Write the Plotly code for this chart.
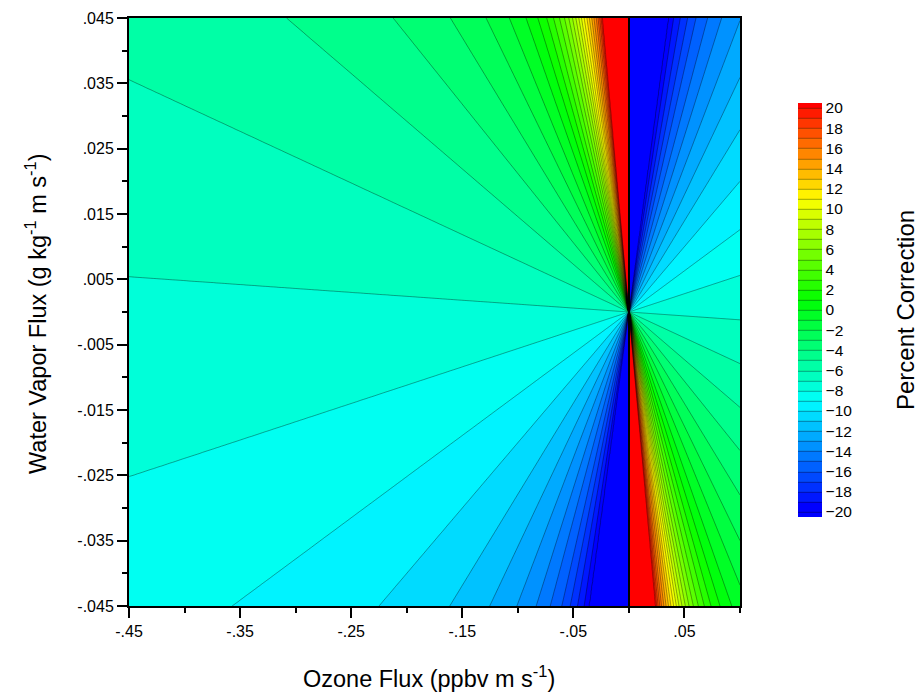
import numpy as np
import plotly.graph_objects as go

# Ratio of water vapour flux to ozone flux along each percent-correction contour
flux_ratio = [-1.890, -1.800, -1.710, -1.620, -1.530, -1.430, -1.345, -1.262, -1.190,
              -1.117, -1.054, -0.998, -0.942, -0.886, -0.832, -0.776, -0.720, -0.663,
              -0.609, -0.549, -0.486, -0.418, -0.350, -0.280, -0.212, -0.146, -0.079,
              -0.012, 0.056, 0.126, 0.200, 0.279, 0.359, 0.446, 0.539, 0.635, 0.745,
              0.851, 0.972, 1.117, 1.268]
percent_correction = [20, 19, 18, 17, 16, 15, 14, 13, 12, 11, 10, 9, 8, 7, 6, 5, 4, 3,
                      2, 1, 0, -1, -2, -3, -4, -5, -6, -7, -8, -9, -10, -11, -12, -13,
                      -14, -15, -16, -17, -18, -19, -20]

x_ticks = [-0.45, -0.35, -0.25, -0.15, -0.05, 0.05]
x_tick_labels = ["-.45", "-.35", "-.25", "-.15", "-.05", ".05"]
x_minor = [-0.40, -0.30, -0.20, -0.10, 0.0, 0.10]
y_ticks = [0.045, 0.035, 0.025, 0.015, 0.005, -0.005, -0.015, -0.025, -0.035, -0.045]
y_tick_labels = [".045", ".035", ".025", ".015", ".005", "-.005", "-.015", "-.025",
                 "-.035", "-.045"]
y_minor = [0.04, 0.03, 0.02, 0.01, 0.0, -0.01, -0.02, -0.03, -0.04]
cbar_ticks = list(range(-20, 21, 2))

# Flux grid, refined towards zero ozone flux where the contours crowd together
xg = np.concatenate([
    np.linspace(-0.45, -0.06, 160),
    -np.geomspace(0.06, 1e-4, 420)[1:],
    np.geomspace(1e-4, 0.06, 420),
    np.linspace(0.06, 0.10, 40)[1:],
])
yg = np.linspace(-0.045, 0.045, 241)
X, Y = np.meshgrid(xg, yg)
Z = np.interp(Y / X, flux_ratio, percent_correction, left=21, right=-21).round(3)

# Rainbow palette expressed in percent units (plotly maps the contour bands onto -21..20)
anchors = [(-21, "rgb(0,0,255)"), (-20, "rgb(0,0,255)"), (-9.5, "rgb(0,255,255)"),
           (0.5, "rgb(0,255,0)"), (10.5, "rgb(255,255,0)"), (20, "rgb(255,0,0)")]
colorscale = [[(v + 21) / 41, c] for v, c in anchors]

font_family = "Arial, Liberation Sans, sans-serif"

fig = go.Figure(go.Contour(
    x=xg, y=yg, z=Z,
    autocontour=False,
    contours=dict(start=-20, end=20, size=1, coloring="fill", showlines=True),
    line=dict(color="rgba(0,0,0,0.6)", width=0.6),
    colorscale=colorscale,
    colorbar=dict(
        thickness=24, thicknessmode="pixels",
        len=414, lenmode="pixels", ypad=0, xpad=0,
        x=(798 - 129) / 611, xanchor="left", y=(606 - 310) / 588, yanchor="middle",
        tickmode="array", tickvals=cbar_ticks, ticks="",
        outlinewidth=0,
        tickfont=dict(family=font_family, size=15.5, color="black"),
    ),
    hoverinfo="skip",
))

axis_common = dict(
    showgrid=False, zeroline=False,
    showline=True, linecolor="black", linewidth=2, mirror=True,
    ticks="outside", ticklen=10, tickwidth=1.5, tickcolor="black",
    tickfont=dict(family=font_family, size=16, color="black"),
    automargin=False,
)

title_font = dict(family=font_family, size=23.5, color="black")

fig.update_layout(
    width=919, height=692,
    margin=dict(l=129, r=179, t=18, b=86),
    paper_bgcolor="white", plot_bgcolor="white",
    font=dict(family=font_family, color="black"),
    xaxis=dict(
        range=[-0.45, 0.10], tickmode="array", tickvals=x_ticks, ticktext=x_tick_labels,
        minor=dict(tickmode="array", tickvals=x_minor, ticks="outside", ticklen=5,
                   tickwidth=1.5, tickcolor="black"),
        **axis_common,
    ),
    yaxis=dict(
        range=[-0.045, 0.045], tickmode="array", tickvals=y_ticks, ticktext=y_tick_labels,
        minor=dict(tickmode="array", tickvals=y_minor, ticks="outside", ticklen=5,
                   tickwidth=1.5, tickcolor="black"),
        **axis_common,
    ),
    annotations=[
        dict(text="Ozone Flux (ppbv m s<sup>-1</sup>)",
             xref="paper", yref="paper", x=(429 - 129) / 611, y=(606 - 677) / 588,
             xanchor="center", yanchor="middle", showarrow=False, font=title_font),
        dict(text="Water Vapor Flux (g kg<sup>-1</sup> m s<sup>-1</sup>)", textangle=-90,
             xref="paper", yref="paper", x=(36 - 129) / 611, y=(606 - 314) / 588,
             xanchor="center", yanchor="middle", showarrow=False, font=title_font),
        dict(text="Percent Correction", textangle=-90,
             xref="paper", yref="paper", x=(905 - 129) / 611, y=(606 - 310) / 588,
             xanchor="center", yanchor="middle", showarrow=False,
             font=dict(family=font_family, size=24, color="black")),
    ],
)

fig.write_html("out.html")
